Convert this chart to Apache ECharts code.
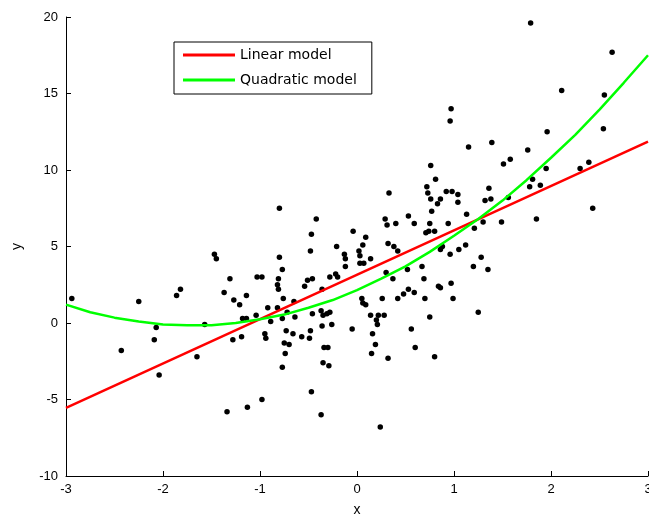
<!DOCTYPE html>
<html>
<head>
<meta charset="utf-8">
<script src="https://cdn.jsdelivr.net/npm/echarts@6/dist/echarts.min.js"></script>
<style>
  html, body { margin: 0; padding: 0; background: #fff; }
  #main { width: 649px; height: 517px; }
</style>
</head>
<body>
<div id="main"></div>
<script>
// observed data points (x, y)
var pointsX = [
  1.79, 2.63, 2.11, 2.55, 0.97, 0.96, 1.96, 2.54, 1.15, 1.39, 1.76, 1.51, 1.58, 1.95, 2.30, 2.39,
  0.92, 0.98, 1.04, 1.36, 0.86, 1.04, 1.32, 1.38, 1.81, 1.78, 1.89, 1.56, 1.13, 1.30, 1.49, 1.85,
  2.43, 0.94, 1.21, 0.88, 0.86, 1.05, 1.12, 0.96, 1.28, 1.20, 1.35, 0.97, 0.99, 1.25, 0.86,
  0.76, 0.81, 0.72, 0.73, 0.33, 0.76, 0.83, 0.77, -0.80, -0.42, 0.29, 0.53, 0.40, 0.31, 0.59, 0.75,
  0.71, 0.74, 0.80, -0.04, 0.09, -0.47, -0.48, -0.21, 0.06, 0.02, 0.32, 0.38, 0.42, -0.13, -0.12, 0.03,
  -0.80, 0.03, 0.07, 0.14, -0.12, -0.77, 0.67, 0.52, -1.03, -0.98, -0.81, -0.51, -0.46, -0.28, -0.22, -0.20,
  0.30, 0.37, 0.69, 0.84, -0.82, -0.81, -0.54, -0.36, -0.76, -0.65, 0.05, 0.26, 0.42, 0.48, 0.53, 0.59,
  0.70, 0.06, 0.09, -0.92, -0.82, -0.72, -0.64, -0.46, -0.37, -0.35, -0.31, -0.28, -1.04, 0.14, 0.22, 0.28, 0.75,
  0.20, 0.21, -0.89, -0.77, -0.95, -0.94, -0.73, -0.66, -0.57, -0.49, -0.48, -0.36, -0.26, -0.05, 0.16, 0.56,
  -0.75, -0.70, -0.74, -0.77, -0.34, -0.30, 0.19, 0.15, 0.32, 0.60, 0.80, -0.35, -0.29, -0.98, -0.47, -0.37, 0.24,
  -2.43, -2.07, -2.09, -2.04, -1.57, -1.65, -1.28, -1.19, -1.18, -1.14, -1.34, -1.13,
  -2.94, -2.25, -1.86, -1.82, -1.47, -1.45, -1.31, -1.37, -1.27, -1.21, -1.14
];
var pointsY = [
  19.6, 17.7, 15.2, 14.9, 14.0, 13.2, 12.5, 12.7, 11.5, 11.8, 11.3, 10.4, 10.7, 10.1, 10.1, 10.5,
  8.6, 8.6, 8.4, 8.8, 8.1, 7.9, 8.0, 8.1, 9.4, 8.9, 9.0, 8.2, 7.1, 6.6, 6.6, 6.8,
  7.5, 6.5, 6.2, 5.0, 4.8, 4.8, 5.1, 4.5, 4.3, 3.7, 3.5, 2.6, 1.6, 0.7, 2.3,
  10.3, 9.4, 8.9, 8.5, 8.5, 8.1, 7.8, 7.3, 7.5, 6.8, 6.8, 7.0, 6.5, 6.4, 6.5, 6.5,
  5.9, 6.0, 6.0, 6.0, 5.6, 5.8, 4.7, 5.0, 5.1, 4.7, 5.2, 5.0, 4.7, 4.5, 4.2, 4.4,
  4.3, 3.9, 3.9, 4.2, 3.7, 3.5, 3.7, 3.5, 3.0, 3.0, 2.9, 2.8, 2.9, 3.0, 3.2, 3.0,
  3.3, 2.9, 2.9, 2.4, 2.5, 2.2, 2.4, 2.2, 1.6, 1.4, 1.6, 1.6, 1.6, 1.9, 2.2, 2.0,
  1.6, 1.3, 1.2, 1.0, 1.0, 0.7, 0.4, 0.6, 0.8, 0.5, 0.6, 0.7, 0.5, 0.5, 0.5, 0.5, 0.4,
  0.2, -0.1, 0.1, 0.3, -0.7, -1.0, -0.5, -0.7, -0.9, -1.0, -0.5, -0.2, -0.1, -0.4, -0.7, -0.4,
  -1.3, -1.4, -2.0, -2.9, -1.6, -1.6, -1.4, -2.0, -2.3, -1.6, -2.2, -2.6, -2.8, -5.0, -4.5, -6.0, -6.8,
  -1.8, -0.3, -1.1, -3.4, -0.1, -2.2, -1.1, -0.9, 0.3, 0.3, -5.8, -5.5,
  1.6, 1.4, 1.8, 2.2, 4.5, 4.2, 2.9, 2.0, 1.5, 1.2, 1.8
];

// fitted lines
var linearX = [-3, 3];
var linearY = [-5.55, 11.85];
var quadX = [-3, -2.75, -2.5, -2.25, -2, -1.75, -1.5, -1.25, -1, -0.75, -0.5, -0.25, 0,
             0.25, 0.5, 0.75, 1, 1.25, 1.5, 1.75, 2, 2.25, 2.5, 2.75, 3];
var quadY = [1.2, 0.7, 0.35, 0.1, -0.1, -0.15, -0.15, 0.0, 0.25, 0.55, 1.0, 1.5, 2.15,
             2.9, 3.7, 4.65, 5.7, 6.8, 8.0, 9.35, 10.8, 12.3, 13.95, 15.7, 17.5];

var xTicks = [-3, -2, -1, 0, 1, 2, 3];
var yTicks = [-10, -5, 0, 5, 10, 15, 20];

function zip(a, b) {
    return a.map(function (v, i) { return [v, b[i]]; });
}

var font = 'Liberation Sans, Arial, sans-serif';
var axisCommon = {
    axisLine: { show: true, onZero: false, lineStyle: { color: '#000', width: 1 } },
    axisTick: { show: true, inside: true, length: 5, lineStyle: { color: '#000' } },
    splitLine: { show: false },
    axisLabel: { color: '#000', fontSize: 13, fontFamily: font },
    nameTextStyle: { color: '#000', fontSize: 14, fontFamily: font }
};

var myChart = echarts.init(document.getElementById('main'));
myChart.setOption({
    animation: false,
    backgroundColor: '#fff',
    grid: { left: 66, top: 17, right: 1, bottom: 41, containLabel: false, outerBoundsMode: 'none' },
    legend: {
        data: ['Linear model', 'Quadratic model'],
        orient: 'vertical',
        left: 174,
        top: 42,
        icon: 'rect',
        itemWidth: 52,
        itemHeight: 3,
        itemGap: 11,
        padding: [6, 15, 7, 9],
        borderColor: '#000',
        borderWidth: 1,
        backgroundColor: '#fff',
        textStyle: { color: '#000', fontSize: 14, fontFamily: 'DejaVu Sans, sans-serif' }
    },
    xAxis: Object.assign({}, axisCommon, {
        type: 'value',
        min: xTicks[0],
        max: xTicks[xTicks.length - 1],
        interval: 1,
        name: 'x',
        nameLocation: 'middle',
        nameGap: 27,
        axisLabel: Object.assign({}, axisCommon.axisLabel, { margin: 7 })
    }),
    yAxis: Object.assign({}, axisCommon, {
        type: 'value',
        min: yTicks[0],
        max: yTicks[yTicks.length - 1],
        interval: 5,
        name: 'y',
        nameLocation: 'middle',
        nameGap: 42,
        nameRotate: 90,
        axisLabel: Object.assign({}, axisCommon.axisLabel, { margin: 8 })
    }),
    series: [
        {
            name: 'data',
            type: 'scatter',
            data: zip(pointsX, pointsY),
            symbol: 'circle',
            symbolSize: 5.5,
            itemStyle: { color: '#000', opacity: 1 },
            z: 2
        },
        {
            name: 'Linear model',
            type: 'line',
            data: zip(linearX, linearY),
            showSymbol: false,
            lineStyle: { color: '#ff0000', width: 2.5 },
            itemStyle: { color: '#ff0000' },
            z: 3
        },
        {
            name: 'Quadratic model',
            type: 'line',
            data: zip(quadX, quadY),
            showSymbol: false,
            lineStyle: { color: '#00ff00', width: 2.5 },
            itemStyle: { color: '#00ff00' },
            z: 3
        }
    ]
});
</script>
</body>
</html>
